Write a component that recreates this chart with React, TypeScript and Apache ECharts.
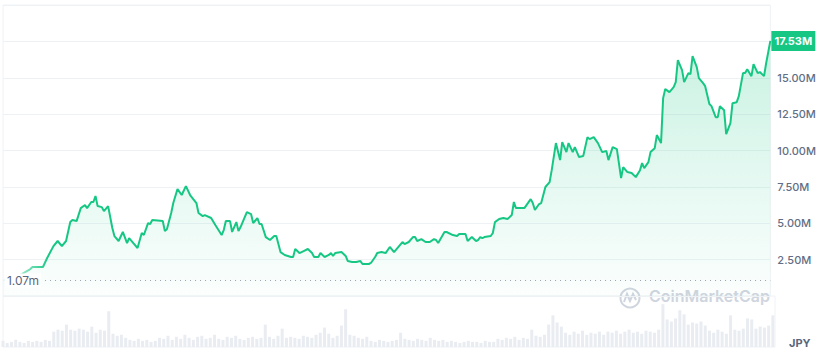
import React, { useEffect, useRef } from "react";
import * as echarts from "echarts";

// [day index, price in millions JPY]
const pricePoints: [number, number][] = [
  [0, 1.07], [3, 1.24], [8, 1.44], [13, 1.85], [14, 1.99], [17, 1.99], [19, 1.99], [21, 2.61],
  [24, 3.43], [26, 3.78], [28, 3.43], [30, 3.78], [32, 5.08], [33, 5.22], [35, 5.15], [37, 6.04],
  [39, 6.25], [40, 6.04], [42, 6.46], [43, 6.46], [44, 6.87], [45, 6.18], [47, 6.11], [48, 5.84],
  [50, 6.18], [52, 4.67], [53, 4.12], [55, 3.78], [57, 4.4], [59, 3.64], [60, 3.98], [62, 3.64],
  [64, 3.3], [66, 4.33], [67, 4.19], [69, 5.01], [70, 4.95], [71, 5.22], [76, 5.15], [77, 4.46],
  [78, 4.6], [80, 5.7], [81, 6.39], [83, 7.35], [85, 6.94], [87, 7.55], [89, 6.94], [92, 6.39],
  [93, 5.7], [95, 5.49], [96, 5.56], [99, 5.36], [101, 4.88], [104, 4.19], [105, 4.53], [106, 5.15],
  [108, 5.15], [109, 4.4], [111, 5.08], [112, 4.46], [113, 4.74], [116, 5.77], [118, 5.63], [119, 5.01],
  [121, 5.36], [122, 4.95], [123, 4.95], [125, 4.05], [127, 3.85], [129, 4.12], [130, 4.12], [132, 3.02],
  [134, 2.82], [137, 2.68], [138, 2.68], [139, 3.23], [141, 2.95], [143, 3.09], [145, 3.23], [147, 2.95],
  [148, 2.68], [150, 2.68], [151, 2.95], [153, 2.68], [155, 2.82], [156, 2.95], [157, 2.75], [158, 2.95],
  [161, 3.02], [163, 2.75], [164, 2.4], [166, 2.34], [168, 2.34], [170, 2.4], [171, 2.2], [174, 2.2],
  [175, 2.27], [177, 2.68], [178, 2.95], [180, 3.02], [182, 2.95], [184, 3.37], [186, 3.02], [190, 3.71],
  [191, 3.57], [193, 3.71], [195, 4.05], [196, 4.05], [197, 3.78], [199, 3.91], [201, 3.71], [203, 3.71],
  [205, 3.91], [206, 3.85], [207, 3.64], [210, 4.4], [211, 4.4], [214, 4.19], [216, 4.12], [217, 4.26],
  [220, 4.26], [221, 3.78], [223, 4.05], [225, 3.78], [226, 3.85], [227, 4.05], [228, 3.98], [229, 4.05],
  [232, 4.12], [233, 4.33], [234, 5.08], [236, 5.29], [238, 5.36], [240, 5.29], [242, 5.56], [243, 6.46],
  [244, 6.04], [246, 6.04], [248, 6.04], [251, 6.66], [252, 6.39], [253, 5.91], [255, 6.32], [256, 6.39],
  [258, 7.49], [260, 7.83], [261, 8.65], [263, 10.51], [265, 9.34], [266, 10.58], [268, 9.89], [269, 10.51],
  [271, 9.89], [272, 10.23], [274, 9.55], [276, 9.62], [278, 10.92], [279, 10.78], [281, 10.92], [283, 10.51],
  [285, 9.89], [287, 9.96], [288, 9.34], [290, 10.23], [292, 10.1], [294, 8.1], [295, 8.86], [297, 8.52],
  [299, 8.45], [301, 8.17], [303, 8.65], [304, 9.13], [305, 8.79], [307, 9.2], [308, 9.89], [310, 10.16],
  [311, 11.06], [313, 10.51], [314, 13.6], [315, 14.22], [317, 14.01], [319, 14.35], [320, 14.7], [321, 16.21],
  [323, 15.52], [324, 14.7], [326, 15.32], [327, 15.25], [328, 16.48], [330, 15.73], [331, 14.97], [333, 14.63],
  [334, 14.42], [336, 13.19], [337, 13.05], [339, 12.29], [340, 12.29], [341, 13.05], [343, 12.77], [344, 11.13],
  [346, 11.88], [347, 13.25], [349, 13.32], [350, 13.74], [352, 15.32], [353, 15.32], [354, 15.59], [356, 15.11],
  [357, 15.93], [359, 15.32], [360, 15.39], [362, 15.11], [363, 16.0], [365, 17.53],
];

// volume, one value every 2 days (relative units)
const volumes: number[] = [
  6, 4, 5, 7, 5, 4, 6, 5, 6, 5, 7, 6,
  15, 17, 16, 22, 17,
  16, 18, 17, 15, 20,
  14, 17, 16,
  35,
  13, 11, 12, 9,
  7, 6, 8, 6, 7, 5, 6,
  9, 8, 11, 7, 10, 8, 12, 9, 7, 10, 11, 8, 9, 12, 8, 7, 10, 9, 11, 8, 7, 9, 10, 8,
  9, 22, 10,
  8, 11, 18, 9, 10,
  9, 8, 11, 10, 9, 12,
  14, 19, 13, 9, 11, 21, 37, 12, 11, 9, 8, 10,
  6, 5, 7, 6, 5, 6, 7,
  14, 8,
  7, 6, 8, 7, 6, 9, 7, 6, 7,
  5, 6, 5, 4, 5, 6, 5, 5, 4, 6, 5, 5,
  8, 7, 9, 8, 10, 7, 9, 8,
  17, 11, 10, 12,
  22, 31, 24, 20,
  14, 12, 15, 13, 16, 12, 14, 13, 15, 12,
  15, 14, 16, 13, 15, 17, 14, 15, 13, 16, 15, 14, 17,
  42, 27, 25, 28, 36, 32,
  22, 24, 23, 25, 21,
  16, 14, 17, 15, 13,
  31, 17, 16, 18, 28, 27,
  18, 20, 19, 21, 31,
];

const lastPrice = 17.53;
const minPrice = 1.07;
const currency = "JPY";

const GREEN = "#16c784";
const GRID = "#eff2f5";
const FONT = "Inter, 'Noto Sans', sans-serif";

export default function App() {
  const ref = useRef<HTMLDivElement>(null);

  useEffect(() => {
    if (!ref.current) return;
    const chart = echarts.init(ref.current, undefined, { renderer: "svg" });
    const volumeData = volumes.map((v, i) => [i * 2, v]);
    const lastDay = pricePoints[pricePoints.length - 1][0];

    chart.setOption({
      animation: false,
      textStyle: { fontFamily: FONT },
      grid: [
        { left: 3, right: 44, top: 5, bottom: 57, show: true, borderColor: GRID, borderWidth: 1 },
        { left: 3, right: 44, top: 296, bottom: 6, show: true, borderColor: GRID, borderWidth: 1 },
      ],
      xAxis: [
        { type: "value", gridIndex: 0, min: 0, max: 365, show: false },
        { type: "value", gridIndex: 1, min: 0, max: 365, show: false },
      ],
      yAxis: [
        {
          type: "value",
          gridIndex: 0,
          position: "right",
          min: 0,
          max: 20,
          interval: 2.5,
          axisLine: { show: false },
          axisTick: { show: false },
          splitLine: { lineStyle: { color: GRID, width: 1 } },
          axisLabel: {
            margin: 7,
            color: "#616e85",
            fontSize: 11,
            fontWeight: 500,
            fontFamily: FONT,
            formatter: (v: number) => (v <= 0 || v >= 17.5 ? "" : v.toFixed(2) + "M"),
          },
        },
        { type: "value", gridIndex: 1, min: 0, max: 50, show: false },
      ],
      series: [
        {
          type: "bar",
          xAxisIndex: 1,
          yAxisIndex: 1,
          data: volumeData,
          barWidth: 3,
          itemStyle: { color: "#e9ecf1" },
          silent: true,
        },
        {
          type: "line",
          xAxisIndex: 0,
          yAxisIndex: 0,
          data: pricePoints,
          showSymbol: false,
          smooth: false,
          lineStyle: {
            width: 2,
            color: new echarts.graphic.LinearGradient(0, 0, 1, 0, [
              { offset: 0, color: "rgba(22,199,132,0.05)" },
              { offset: 0.035, color: "rgba(22,199,132,0.6)" },
              { offset: 0.06, color: GREEN },
              { offset: 1, color: GREEN },
            ]),
          },
          itemStyle: { color: GREEN },
          areaStyle: {
            color: new echarts.graphic.LinearGradient(0, 0, 0, 1, [
              { offset: 0, color: "rgba(22,199,132,0.33)" },
              { offset: 1, color: "rgba(22,199,132,0.02)" },
            ]),
          },
          markLine: {
            silent: true,
            symbol: ["none", "none"],
            lineStyle: { color: "#9aa3b1", width: 1, type: [1, 4] },
            label: {
              show: true,
              position: "start",
              distance: 4,
              formatter: minPrice.toFixed(2) + "m",
              color: "#58667e",
              fontSize: 12,
              fontFamily: FONT,
              backgroundColor: "#ffffff",
              padding: [1, 2, 1, 2],
            },
            data: [[{ coord: [20, minPrice] }, { coord: [365, minPrice] }]],
          },
          markPoint: {
            silent: true,
            symbol: "rect",
            symbolSize: [44, 20],
            symbolOffset: [23, 0],
            itemStyle: { color: GREEN },
            label: {
              show: true,
              color: "#ffffff",
              fontSize: 11,
              fontWeight: "bold",
              fontFamily: FONT,
              formatter: lastPrice.toFixed(2) + "M",
            },
            data: [{ coord: [lastDay, lastPrice] }],
          },
        },
      ],
      graphic: [
        {
          type: "circle",
          shape: { cx: 630, cy: 298, r: 9.5 },
          style: { fill: "none", stroke: "#cfd5de", lineWidth: 2 },
          silent: true,
        },
        {
          type: "polyline",
          shape: { points: [[624, 302], [627, 294], [630, 301], [633, 294], [636, 300]] },
          style: { fill: "none", stroke: "#cfd5de", lineWidth: 2 },
          silent: true,
        },
        {
          type: "text",
          left: 649,
          top: 288,
          style: {
            text: "CoinMarketCap",
            fill: "#cfd5de",
            fontSize: 16,
            fontWeight: 600,
            fontFamily: FONT,
          },
          silent: true,
        },
        {
          type: "text",
          left: 789,
          top: 337,
          style: {
            text: currency,
            fill: "#58667e",
            fontSize: 11,
            fontWeight: "bold",
            fontFamily: FONT,
          },
          silent: true,
        },
      ],
    });

    return () => chart.dispose();
  }, []);

  return (
    <div
      ref={ref}
      style={{ position: "absolute", left: 0, top: 0, width: 819, height: 353, background: "#fff" }}
    />
  );
}
